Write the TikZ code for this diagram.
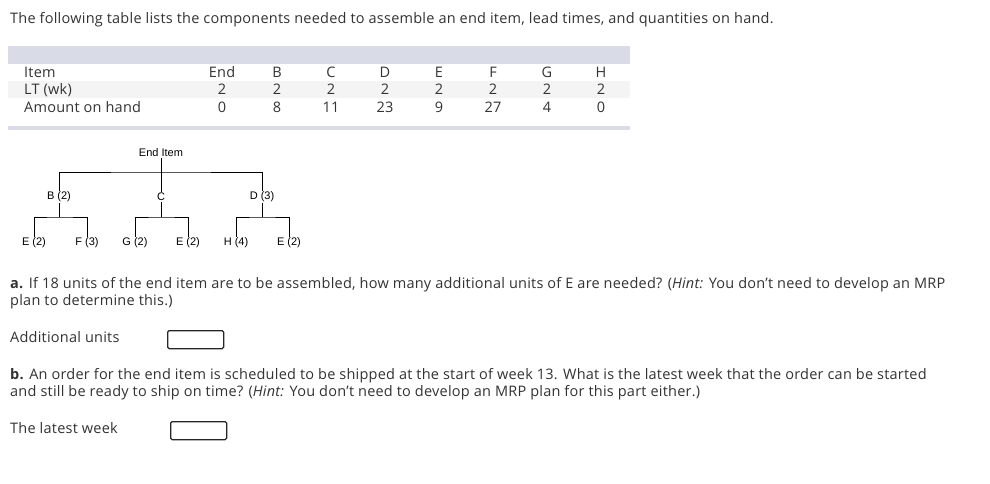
\documentclass[tikz,border=0pt]{standalone}
\usepackage{fontspec}
\setmainfont[LetterSpace=1.6]{Open Sans}
\newfontfamily\treefont{Liberation Sans}
\definecolor{txt}{HTML}{333333}
\definecolor{band}{HTML}{D9DCE6}
\definecolor{rowbg}{HTML}{F4F4F4}
\begin{document}
\begin{tikzpicture}[x=1pt,y=-1pt,
  body/.style={font=\fontsize{14.5}{16}\selectfont, text=txt, inner sep=0pt, anchor=base west},
  cell/.style={font=\fontsize{14.5}{16}\selectfont, text=txt, inner sep=0pt, anchor=base},
  tree/.style={font=\treefont\fontsize{11}{12}\selectfont, text=black, inner sep=1pt},
  link/.style={draw=black, line width=0.8pt},
  ansbox/.style={draw=black!85, line width=1.3pt, fill=white, rounded corners=1.5pt}]
\useasboundingbox (0,0) rectangle (990,483);
\fill[white] (0,0) rectangle (990,483);
% title
\node[body] (title) at (10,23) {The following table lists the components needed to assemble an end item, lead times, and quantities on hand.};
% table
\fill[band] (8,46) rectangle (630,64);
\fill[rowbg] (8,81) rectangle (630,98);
\fill[band] (8,126) rectangle (630,130);
\node[body] (r1) at (24,77) {Item};
\node[body] (r2) at (24,94) {LT (wk)};
\node[body] (r3) at (24,112) {Amount on hand};
\foreach \n/\x/\a/\b/\c in {end/222/End/2/0, b/277/B/2/8, c/331/C/2/11, d/385/D/2/23, e/439/E/2/9, f/493/F/2/27, g/547/G/2/4, h/601/H/2/0}{
  \node[cell] (h\n) at (\x,77) {\a};
  \node[cell] (l\n) at (\x,94) {\b};
  \node[cell] (q\n) at (\x,112) {\c};
}
% tree
\node[tree] (end) at (161,153) {End Item};
\node[tree] (B) at (59,197) {B (2)};
\node[tree] (C) at (161,197) {C};
\node[tree] (D) at (262,197) {D (3)};
\node[tree] (E1) at (34,243) {E (2)};
\node[tree] (F) at (87,243) {F (3)};
\node[tree] (G) at (135,243) {G (2)};
\node[tree] (E2) at (188,243) {E (2)};
\node[tree] (H) at (236,243) {H (4)};
\node[tree] (E3) at (289,243) {E (2)};
\coordinate (j0) at (161,172);
\coordinate (jB) at (59,217);
\coordinate (jC) at (161,217);
\coordinate (jD) at (262,217);
\draw[link] (end.south) -- (j0);
\draw[link] (B.north) |- (j0) -| (D.north);
\draw[link] (j0) -- (C.north);
\draw[link] (B.south) -- (jB);
\draw[link] (E1.north) |- (jB) -| (F.north);
\draw[link] (C.south) -- (jC);
\draw[link] (G.north) |- (jC) -| (E2.north);
\draw[link] (D.south) -- (jD);
\draw[link] (H.north) |- (jD) -| (E3.north);
% questions
\node[body] (qa1) at (10,288) {\textbf{a.} If 18 units of the end item are to be assembled, how many additional units of E are needed? (\textit{Hint:} You don't need to develop an MRP};
\node[body] (qa2) at (10,305) {plan to determine this.)};
\node[body] (la) at (10,342) {Additional units};
\node[ansbox, minimum width=56pt, minimum height=18pt, anchor=north west] (ba) at (167,330) {};
\node[body] (qb1) at (10,379) {\textbf{b.} An order for the end item is scheduled to be shipped at the start of week 13. What is the latest week that the order can be started};
\node[body] (qb2) at (10,396) {and still be ready to ship on time? (\textit{Hint:} You don't need to develop an MRP plan for this part either.)};
\node[body] (lb) at (10,433) {The latest week};
\node[ansbox, minimum width=56pt, minimum height=18pt, anchor=north west] (bb) at (170,421) {};
\end{tikzpicture}
\end{document}
